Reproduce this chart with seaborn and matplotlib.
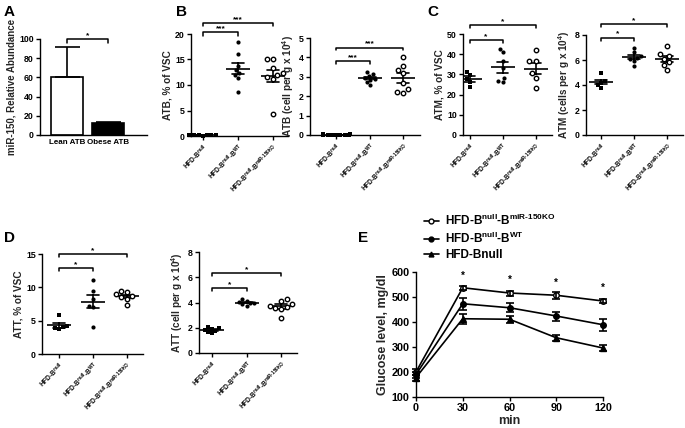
import numpy as np
import pandas as pd
import matplotlib
matplotlib.use('Agg')
import matplotlib.pyplot as plt
import seaborn as sns
import warnings
warnings.filterwarnings('ignore')

# ---------------- data ----------------
a_cats = ["Lean ATB", "Obese ATB"]
a_means = [60.0, 12.5]
a_errs = [32.0, 1.5]

g_null = r"HFD-B$^{null}$"
g_wt = r"HFD-B$^{null}$-B$^{WT}$"
g_ko = r"HFD-B$^{null}$-B$^{miR\text{-}150KO}$"
cats = [g_null, g_wt, g_ko]

atb_pct_null = [0.20, 0.10, 0.15, 0.05, 0.10, 0.20, 0.10, 0.15]
atb_pct_wt = [18.4, 16.0, 13.8, 12.9, 12.3, 12.0, 11.4, 8.7]
atb_pct_ko = [15.0, 15.0, 13.3, 12.3, 12.0, 11.6, 11.2, 4.3]

atb_cnt_null = [0.02, 0.03, 0.01, 0.02, 0.03, 0.02, 0.01, 0.02, 0.03, 0.02, 0.01]
atb_cnt_wt = [3.25, 3.15, 3.05, 2.95, 2.90, 2.85, 2.75, 2.60]
atb_cnt_ko = [4.00, 3.55, 3.35, 3.20, 2.70, 2.35, 2.20, 2.15]

atm_pct_null = [31.3, 29.8, 27.5, 26.0, 24.0]
atm_pct_wt = [42.6, 40.9, 36.6, 33.3, 28.0, 26.1, 26.7]
atm_pct_ko = [42.1, 36.8, 36.8, 30.5, 28.0, 23.1]

atm_cnt_null = [4.95, 4.30, 4.15, 4.00, 3.80]
atm_cnt_wt = [7.00, 6.65, 6.30, 6.20, 6.10, 5.95, 5.50]
atm_cnt_ko = [7.10, 6.45, 6.35, 6.10, 5.85, 5.60, 5.20]

att_pct_null = [5.8, 4.2, 4.0, 3.9, 3.7]
att_pct_wt = [11.1, 9.5, 8.3, 7.2, 7.0, 4.1]
att_pct_ko = [9.5, 9.3, 9.0, 8.7, 8.5, 8.2, 7.3]

att_cnt_null = [2.05, 1.95, 1.90, 1.85, 1.75, 1.65, 1.55]
att_cnt_wt = [4.25, 4.15, 4.05, 4.00, 3.95, 3.85, 3.75]
att_cnt_ko = [4.30, 4.15, 3.85, 3.75, 3.65, 3.55, 3.45, 2.80]

e_time = [0, 30, 60, 90, 120]
e_ko_mean = [200, 537, 516, 507, 484]
e_ko_sem = [12, 8, 10, 15, 8]
e_wt_mean = [190, 473, 457, 424, 389]
e_wt_sem = [12, 25, 18, 18, 25]
e_null_mean = [178, 413, 411, 337, 296]
e_null_sem = [12, 20, 15, 13, 12]
e_star_y = [585, 568, 556, 537]
e_star_x = [30, 60, 90, 120]

# ---------------- style ----------------
sns.set_theme(style='ticks')
plt.rcParams.update({
    'font.family': ['Liberation Sans', 'DejaVu Sans'],
    'font.weight': 'bold',
    'axes.labelweight': 'bold',
    'mathtext.fontset': 'custom',
    'mathtext.rm': 'Liberation Sans:bold',
    'mathtext.it': 'Liberation Sans:bold',
    'mathtext.bf': 'Liberation Sans:bold',
    'mathtext.default': 'rm',
    'axes.linewidth': 1.0,
    'xtick.major.width': 1.0,
    'ytick.major.width': 1.0,
    'xtick.major.size': 3,
    'ytick.major.size': 3,
    'xtick.major.pad': 1.5,
    'ytick.major.pad': 1.5,
    'axes.edgecolor': 'black',
    'xtick.color': 'black',
    'ytick.color': 'black',
    'text.color': 'black',
})

W, H = 685, 428
fig = plt.figure(figsize=(W / 100, H / 100), dpi=100)


def box(l, t, r, b):
    return fig.add_axes([l / W, 1 - b / H, (r - l) / W, (b - t) / H])


def style(ax, fs=6.3):
    sns.despine(ax=ax)
    ax.tick_params(axis='both', labelsize=fs)
    for lab in ax.get_yticklabels():
        lab.set_fontweight('bold')


def bracket(ax, x0, x1, y, drop, text, fs=6):
    ax.plot([x0, x0, x1, x1], [y - drop, y, y, y - drop], color='black', lw=1.1,
            clip_on=False)
    ax.text((x0 + x1) / 2, y, text, ha='center', va='bottom', fontsize=fs,
            fontweight='bold')


def scatter_panel(ax, null, wt, ko, ylim, yticks, ylabel, xlim, brackets,
                  stars, drop):
    df = pd.DataFrame({
        'group': [g_null] * len(null) + [g_wt] * len(wt) + [g_ko] * len(ko),
        'value': list(null) + list(wt) + list(ko),
    })
    sns.swarmplot(data=df[df.group == g_null], x='group', y='value',
                  order=cats, marker='s', color='black', size=2.9, ax=ax,
                  clip_on=False)
    sns.swarmplot(data=df[df.group == g_wt], x='group', y='value',
                  order=cats, marker='o', color='black', size=3.0, ax=ax)
    sns.swarmplot(data=df[df.group == g_ko], x='group', y='value',
                  order=cats, marker='o', color='white', edgecolor='black',
                  linewidth=1.0, size=3.2, ax=ax)
    sns.pointplot(data=df, x='group', y='value', order=cats, errorbar='se',
                  capsize=0.35, color='black', marker='_', markersize=17,
                  markeredgewidth=1.2, linestyle='none',
                  err_kws={'linewidth': 1.2}, ax=ax)
    ax.set_ylim(*ylim)
    ax.set_yticks(yticks)
    ax.set_xlim(*xlim)
    ax.set_xlabel('')
    ax.set_ylabel(ylabel, fontsize=7.2, labelpad=2)
    style(ax)
    ax.set_xticks(range(3))
    ax.set_xticklabels(cats, rotation=45, ha='right', rotation_mode='anchor',
                       fontsize=4.8)
    for (x0, x1, y), s in zip(brackets, stars):
        bracket(ax, x0, x1, y, drop, s)


# ---------------- Panel A ----------------
axA = box(40, 39, 147, 135)
sns.barplot(x=a_cats, y=a_means, palette=['white', 'black'], edgecolor='black',
            linewidth=1.2, width=0.8, ax=axA)
axA.errorbar(range(2), a_means, yerr=[[0, 0], a_errs], fmt='none',
             ecolor='black', elinewidth=1.2, capsize=9, capthick=1.2)
axA.set_ylim(0, 100)
axA.set_yticks(range(0, 101, 20))
axA.set_xlim(-0.66, 1.95)
axA.set_ylabel('miR-150, Relative Abundance', fontsize=7, labelpad=2)
style(axA)
axA.tick_params(axis='x', labelsize=5.8, length=0, pad=3)
for lab in axA.get_xticklabels():
    lab.set_fontweight('bold')
bracket(axA, 0, 1, 100, 4, '*')

# ---------------- Panel B ----------------
axB1 = box(191, 34, 288, 136)
scatter_panel(axB1, atb_pct_null, atb_pct_wt, atb_pct_ko, (0, 20),
              range(0, 21, 5), 'ATB, % of VSC', (-0.34, 2.43),
              [(0, 1, 20.3), (0, 2, 22.2)], ['***', '***'], 0.6)
axB2 = box(310, 38, 420, 135)
scatter_panel(axB2, atb_cnt_null, atb_cnt_wt, atb_cnt_ko, (0, 5),
              range(0, 6), r'ATB (cell per g x 10$^4$)', (-0.78, 2.5),
              [(0, 1, 3.79), (0, 2, 4.51)], ['***', '***'], 0.15)

# ---------------- Panel C ----------------
axC1 = box(463, 34, 552, 135)
scatter_panel(axC1, atm_pct_null, atm_pct_wt, atm_pct_ko, (0, 50),
              range(0, 51, 10), 'ATM, % of VSC', (-0.2, 2.5),
              [(0, 1, 47.0), (0, 2, 54.5)], ['*', '*'], 1.5)
axC2 = box(586, 35, 683, 135)
scatter_panel(axC2, atm_cnt_null, atm_cnt_wt, atm_cnt_ko, (0, 8),
              range(0, 9, 2), r'ATM (cells per g x 10$^4$)', (-0.45, 2.48),
              [(0, 1, 7.8), (0, 2, 8.9)], ['*', '*'], 0.25)

# ---------------- Panel D ----------------
axD1 = box(42, 254, 143, 354)
scatter_panel(axD1, att_pct_null, att_pct_wt, att_pct_ko, (0, 15),
              range(0, 16, 5), 'ATT, % of VSC', (-0.5, 2.47),
              [(0, 1, 12.85), (0, 2, 14.95)], ['*', '*'], 0.45)
axD2 = box(199, 252, 297, 353)
scatter_panel(axD2, att_cnt_null, att_cnt_wt, att_cnt_ko, (0, 8),
              range(0, 9, 2), r'ATT (cell per g x 10$^4$)', (-0.38, 2.46),
              [(0, 1, 5.14), (0, 2, 6.33)], ['*', '*'], 0.24)

# ---------------- Panel E ----------------
axE = box(416, 272, 603, 397)
series = [
    (r"HFD-B$^{null}$-B$^{miR\text{-}150KO}$", e_ko_mean, e_ko_sem, 'o', 'white'),
    (r"HFD-B$^{null}$-B$^{WT}$", e_wt_mean, e_wt_sem, 'o', 'black'),
    ("HFD-Bnull", e_null_mean, e_null_sem, '^', 'black'),
]
handles = []
for label, m, s, mk, fc in series:
    sns.lineplot(x=e_time, y=m, color='black', lw=1.2, marker=mk, markersize=4,
                 markerfacecolor=fc, markeredgecolor='black', markeredgewidth=1.0,
                 ax=axE, clip_on=False, zorder=3)
    axE.errorbar(e_time, m, yerr=s, fmt='none', ecolor='black', elinewidth=1.2,
                 capsize=3, capthick=1.2, clip_on=False, zorder=3)
    handles.append(plt.Line2D([], [], color='black', lw=1.2, marker=mk,
                              markersize=3.5, markerfacecolor=fc,
                              markeredgecolor='black', markeredgewidth=1.0))
axE.set_xlim(0, 120)
axE.set_ylim(100, 600)
axE.set_xticks(e_time)
axE.set_yticks(range(100, 601, 100))
axE.set_xlabel('min', fontsize=9, labelpad=1)
axE.set_ylabel('Glucose level, mg/dl', fontsize=9, labelpad=2)
style(axE, fs=7.8)
for lab in axE.get_xticklabels():
    lab.set_fontweight('bold')
for x, y in zip(e_star_x, e_star_y):
    axE.text(x, y, '*', ha='center', va='center', fontsize=7, fontweight='bold')
fig.legend(handles, [s[0] for s in series], loc='upper left',
           bbox_to_anchor=(419 / W, 1 - 208 / H), frameon=False,
           handlelength=1.3, handletextpad=0.5, labelspacing=0.25,
           prop={'size': 8.5, 'weight': 'bold'}, borderaxespad=0)

# ---------------- panel letters ----------------
for txt, x, y in [('A', 4, 12), ('B', 176, 12), ('C', 427, 12), ('D', 4, 238),
                  ('E', 358, 238)]:
    fig.text(x / W, 1 - y / H, txt, fontsize=11, fontweight='bold',
             va='center', ha='left')

fig.savefig('out.png', dpi=100)
